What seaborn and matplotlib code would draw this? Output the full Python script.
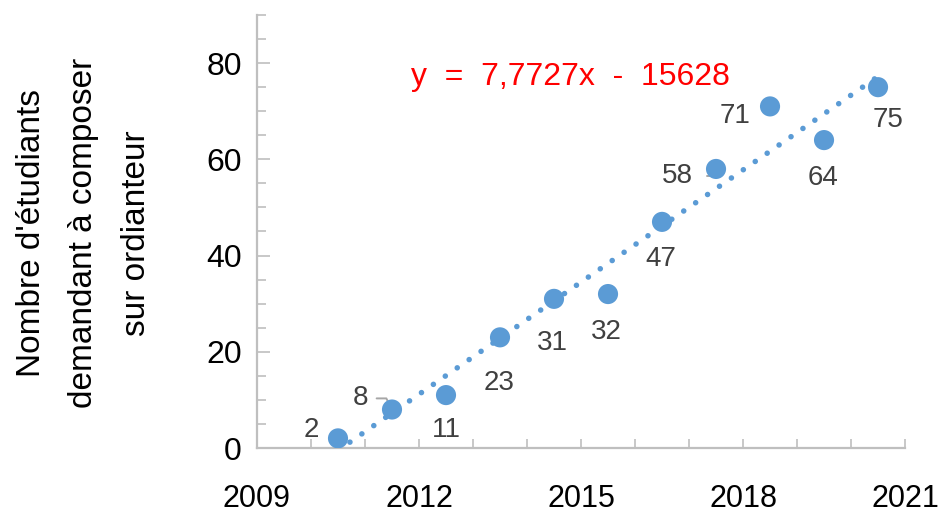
import numpy as np
import pandas as pd
import matplotlib
matplotlib.use("Agg")
import matplotlib.pyplot as plt
from matplotlib.ticker import MultipleLocator, FixedLocator
import seaborn as sns

# school years coded at mid-year (2010.5 = 2010-2011)
years = [2010.5, 2011.5, 2012.5, 2013.5, 2014.5, 2015.5, 2016.5, 2017.5, 2018.5, 2019.5, 2020.5]
students = [2, 8, 11, 23, 31, 32, 47, 58, 71, 64, 75]

# label offsets (points) relative to each marker
label_dx = [-19, -23, 0, -1, -1, -1, -1, -28, -25, -1, 7]
label_dy = [6, 8, -25, -33, -32, -27, -27, -5, -7, -27, -24]

x_major = [2009, 2012, 2015, 2018, 2021]
equation = "y  =  7,7727x  -  15628"
ylabel = "Nombre d'étudiants\ndemandant à composer\nsur ordianteur"

BLUE = "#5B9BD5"
GREY = "#BFBFBF"

sns.set_style("white")
plt.rcParams["font.family"] = ["Liberation Sans", "DejaVu Sans"]

df = pd.DataFrame({"annee": years, "nb": students})

fig = plt.figure(figsize=(9.4, 5.19), dpi=100)
ax = fig.add_axes([0.2734, 0.1368, 0.6894, 0.8343])

# linear trend (dotted)
sns.regplot(data=df, x="annee", y="nb", ax=ax, scatter=False, ci=None, truncate=True,
            line_kws=dict(color=BLUE, lw=4, linestyle=(0, (0.01, 2.6)),
                          dash_capstyle="round", zorder=3))
sns.scatterplot(data=df, x="annee", y="nb", ax=ax, color=BLUE, s=210,
                edgecolor="none", zorder=4)

for i, (x, y) in enumerate(zip(years, students)):
    kw = {}
    if y == 8:
        kw["arrowprops"] = dict(arrowstyle="-", color="#A6A6A6", lw=1.4, shrinkA=4, shrinkB=0,
                                relpos=(1, 0.5),
                                connectionstyle="angle,angleA=0,angleB=117,rad=0")
    if y == 58:
        kw["arrowprops"] = dict(arrowstyle="-", color="#A6A6A6", lw=1.4, shrinkA=8, shrinkB=0,
                                relpos=(1, 0.5),
                                connectionstyle="angle,angleA=0,angleB=90,rad=0")
    ax.annotate(str(y), (x, y), xytext=(label_dx[i], label_dy[i]), textcoords="offset points",
                ha="center", va="center", fontsize=20, color="#404040", zorder=2, **kw)

fig.text(570 / 940, 1 - 77 / 519, equation, fontsize=23, color="red", ha="center", va="center")

ax.set_xlim(2009, 2021)
ax.set_ylim(0, 90)
ax.xaxis.set_major_locator(FixedLocator(x_major))
ax.xaxis.set_minor_locator(MultipleLocator(1))
ax.yaxis.set_major_locator(MultipleLocator(20))
ax.yaxis.set_minor_locator(MultipleLocator(5))
ax.set_xlabel("")
ax.set_ylabel("")

for s in ["top", "right"]:
    ax.spines[s].set_visible(False)
for s in ["left", "bottom"]:
    ax.spines[s].set_color(GREY)
    ax.spines[s].set_linewidth(1.6)

ax.tick_params(axis="x", which="both", direction="in", length=6.7, width=1.2, color=GREY,
               pad=26, labelsize=22, labelcolor="black", bottom=True)
ax.tick_params(axis="y", which="major", direction="in", length=9, width=1.2, color=GREY,
               pad=11, labelsize=23, labelcolor="black", left=True)
ax.tick_params(axis="y", which="minor", direction="in", length=6.7, width=1.2, color=GREY, left=True)

fig.text(84 / 940, 1 - 233 / 519, ylabel, rotation=90, ha="center", va="center",
         multialignment="center", fontsize=24, linespacing=1.9, color="black")

fig.savefig("out.png", dpi=100)
